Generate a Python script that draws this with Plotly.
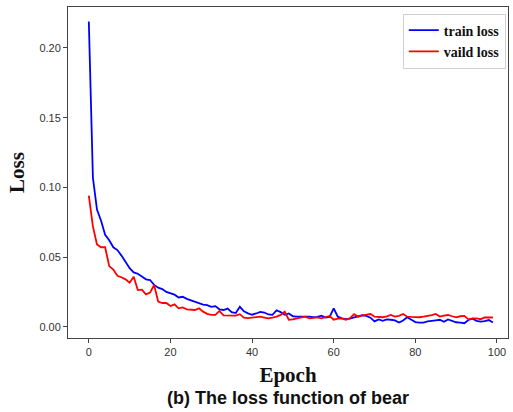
import plotly.graph_objects as go

epochs = list(range(100))

train_loss = [
    0.219, 0.107, 0.084, 0.076, 0.066, 0.062, 0.057, 0.055, 0.051, 0.046,
    0.042, 0.039, 0.038, 0.036, 0.034, 0.0335, 0.030, 0.028, 0.027, 0.025,
    0.024, 0.023, 0.021, 0.0215, 0.020, 0.019, 0.018, 0.017, 0.0158, 0.0155,
    0.0143, 0.0148, 0.0125, 0.012, 0.013, 0.0105, 0.0098, 0.0143, 0.011, 0.0096,
    0.0086, 0.0095, 0.0106, 0.0102, 0.0088, 0.0085, 0.0118, 0.0105, 0.0085, 0.0095,
    0.0075, 0.0072, 0.0073, 0.0076, 0.0072, 0.0068, 0.0070, 0.0079, 0.0065, 0.0070,
    0.0132, 0.0072, 0.0060, 0.0055, 0.0058, 0.0067, 0.0072, 0.0082, 0.0078, 0.0065,
    0.0038, 0.0052, 0.0042, 0.0052, 0.0050, 0.0045, 0.0030, 0.0045, 0.0068, 0.0050,
    0.0033, 0.0030, 0.0030, 0.0038, 0.0040, 0.0046, 0.0050, 0.0036, 0.0052, 0.0040,
    0.0032, 0.0030, 0.0025, 0.0048, 0.0058, 0.0042, 0.0036, 0.0040, 0.0048, 0.0030,
]

valid_loss = [
    0.094, 0.072, 0.059, 0.057, 0.057, 0.0435, 0.041, 0.0365, 0.0355, 0.034,
    0.0316, 0.0358, 0.0263, 0.0266, 0.0232, 0.0245, 0.0299, 0.018, 0.017, 0.017,
    0.0148, 0.016, 0.0132, 0.0138, 0.0125, 0.012, 0.012, 0.0132, 0.0108, 0.0092,
    0.0085, 0.0085, 0.0113, 0.0082, 0.0082, 0.0079, 0.0080, 0.0090, 0.0065, 0.0062,
    0.0065, 0.0068, 0.0072, 0.0066, 0.0060, 0.0065, 0.0072, 0.0085, 0.0108, 0.0050,
    0.0052, 0.0060, 0.0065, 0.0072, 0.0060, 0.0065, 0.0067, 0.0060, 0.0068, 0.0077,
    0.0050, 0.0058, 0.0060, 0.0050, 0.0062, 0.0090, 0.0072, 0.0082, 0.0086, 0.0091,
    0.0072, 0.0070, 0.0068, 0.0074, 0.0084, 0.0072, 0.0078, 0.0091, 0.0072, 0.0070,
    0.0067, 0.0068, 0.0072, 0.0075, 0.0083, 0.0092, 0.0073, 0.0080, 0.0084, 0.0075,
    0.0067, 0.0075, 0.0078, 0.0053, 0.0060, 0.0060, 0.0054, 0.0067, 0.0065, 0.0066,
]

x_ticks = [0, 20, 40, 60, 80, 100]
y_ticks = [0.00, 0.05, 0.10, 0.15, 0.20]
y_tick_labels = ["0.00", "0.05", "0.10", "0.15", "0.20"]

serif_bold = dict(family="Liberation Serif, Times New Roman, serif", color="#111")

fig = go.Figure()
fig.add_trace(go.Scatter(x=epochs, y=train_loss, mode="lines", name="<b>train loss</b>",
                         line=dict(color="#0000ff", width=1.8)))
fig.add_trace(go.Scatter(x=epochs, y=valid_loss, mode="lines", name="<b>vaild loss</b>",
                         line=dict(color="#ff0000", width=1.8)))

axis_common = dict(showline=True, linecolor="#444", linewidth=1, mirror=True,
                   ticks="outside", ticklen=4, tickcolor="#444", showgrid=False,
                   zeroline=False,
                   tickfont=dict(family="Liberation Sans, Arial, sans-serif", size=11, color="#333"))

fig.update_layout(
    width=513, height=412,
    margin=dict(l=68, r=5, t=7, b=74),
    paper_bgcolor="white", plot_bgcolor="white",
    showlegend=True,
    legend=dict(x=0.995, y=0.98, xanchor="right", yanchor="top",
                bgcolor="rgba(255,255,255,0.9)", bordercolor="#d0d0d0", borderwidth=1,
                font=dict(size=14, **serif_bold), tracegroupgap=0),
    xaxis=dict(range=[-5.1, 102.7], tickvals=x_ticks,
               title=dict(text="<b>Epoch</b>", font=dict(size=21, **serif_bold), standoff=10),
               **axis_common),
    yaxis=dict(range=[-0.0081, 0.2294], tickvals=y_ticks, ticktext=y_tick_labels,
               title=dict(text="<b>Loss</b>", font=dict(size=21, **serif_bold), standoff=9),
               **axis_common),
)

fig.add_annotation(text="<b>(b) The loss function of bear</b>", xref="paper", yref="paper",
                   x=0.5, y=-0.181, xanchor="center", yanchor="middle", showarrow=False,
                   font=dict(family="Liberation Sans, Arial, sans-serif", size=18, color="#111"))

fig.write_html("out.html")
